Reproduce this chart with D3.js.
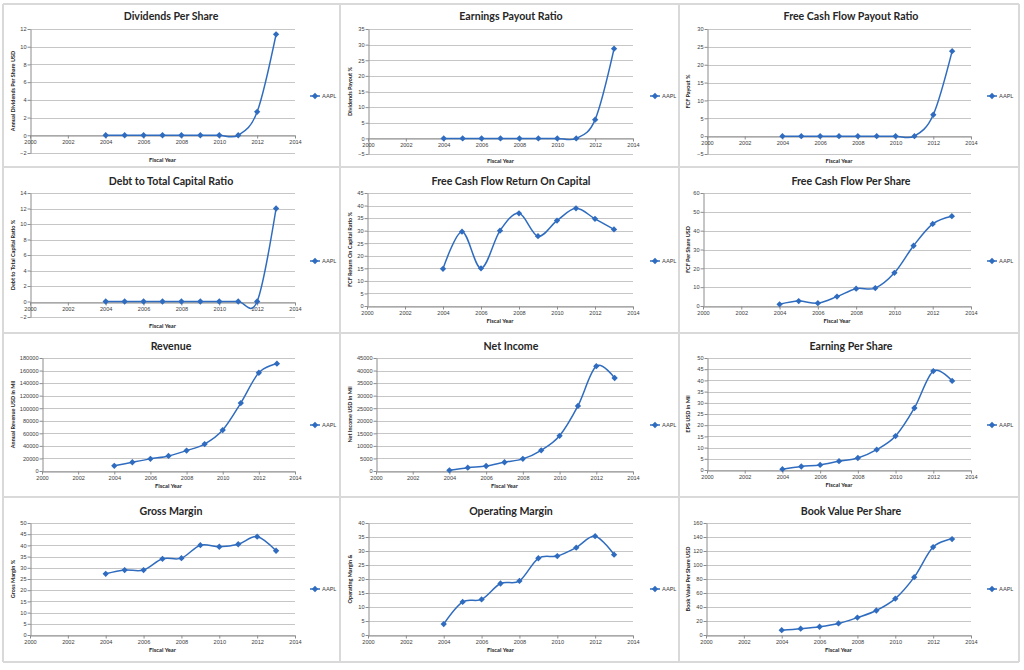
<!DOCTYPE html>
<html><head><meta charset="utf-8">
<script src="https://cdn.jsdelivr.net/npm/d3@7"></script>
<style>body{margin:0;background:#fff}svg{display:block;font-family:Lato,"Open Sans",sans-serif}</style>
</head><body><svg id="c" width="1024" height="670"></svg>
<script>
const years = [2004,2005,2006,2007,2008,2009,2010,2011,2012,2013];
const xTicks = [2000,2002,2004,2006,2008,2010,2012,2014];
const dividendsPerShare = [0,0,0,0,0,0,0,0,2.65,11.4];
const earningsPayout = [0,0,0,0,0,0,0,0,6,28.7];
const fcfPayout = [0,0,0,0,0,0,0,0,6,23.8];
const debtToCapital = [0,0,0,0,0,0,0,0,0,12];
const fcfReturnOnCapital = [14.8,29.6,15,30,36.9,27.8,34,38.9,34.7,30.5];
const fcfPerShare = [0.9,2.6,1.5,5,9.2,9.5,17.6,32,43.6,47.7];
const revenue = [8279,13931,19315,24006,32479,42905,65225,108249,156508,170910];
const netIncome = [276,1328,1989,3496,4834,8235,14013,25922,41733,37037];
const eps = [0.36,1.56,2.27,3.93,5.36,9.08,15.15,27.68,44.15,39.75];
const grossMargin = [27.3,29,29,34,34.3,40.1,39.4,40.5,43.9,37.6];
const operatingMargin = [3.9,11.8,12.7,18.4,19.3,27.4,28.2,31.2,35.3,28.7];
const bookValuePerShare = [6.9,9,11.8,16.5,24.9,35,51.9,82.6,125.6,137];

const titles = ["Dividends Per Share","Earnings Payout Ratio","Free Cash Flow Payout Ratio",
 "Debt to Total Capital Ratio","Free Cash Flow Return On Capital","Free Cash Flow Per Share",
 "Revenue","Net Income","Earning Per Share","Gross Margin","Operating Margin","Book Value Per Share"];
const yLabels = ["Annual Dividends Per Share USD","Dividends Payout %","FCF Payout %",
 "Debt to Total Capital Ratio %","FCF Return On Capital Ratio %","FCF Per Share USD",
 "Annual Revenue USD in Mil","Net Income USD in Mil","EPS USD in Mil",
 "Gross Margin %","Operating Margin &","Book Value Per Share USD"];
const seriesList = [dividendsPerShare,earningsPayout,fcfPayout,debtToCapital,fcfReturnOnCapital,fcfPerShare,
 revenue,netIncome,eps,grossMargin,operatingMargin,bookValuePerShare];
const yMin = [-2,-5,-5,-2,0,0,0,0,0,0,0,0];
const yMax = [12,35,30,14,45,60,180000,45000,50,50,40,160];
const yStep = [2,5,5,2,5,10,20000,5000,5,5,5,20];
const seriesName = "AAPL";

// layout
const colX = [0,340,680];
const rowY = [0,165,330,495];
const plotLeft = [30,28,27, 30,27,23, 42,36,27, 30,28,26];
const plotRight = [295,293,291];
const plotBottom = [[153,154,154],[317,306,306],[471,471,470],[635,635,635]];
const yLabelX = [15,12,10];

const svg = d3.select("#c");
const blue = "#2f6cbf";
const hLines = [4,167,333,497,662], vLines = [3,340,679,1019];
hLines.forEach(y=>svg.append("line").attr("x1",3).attr("x2",1019).attr("y1",y).attr("y2",y).attr("stroke","#d9d9d9").attr("stroke-width",2));
vLines.forEach(x=>svg.append("line").attr("y1",4).attr("y2",662).attr("x1",x).attr("x2",x).attr("stroke","#d9d9d9").attr("stroke-width",2));

const topByRow = [29,193,358,523];
const marker = d3.symbol(d3.symbolSquare,20);
for (let i=0;i<12;i++){
  const r = Math.floor(i/3), c = i%3;
  const ox = colX[c], oy = rowY[r];
  const L = ox + plotLeft[i], R = ox + plotRight[c];
  const T = topByRow[r], B = plotBottom[r][c];
  const x = d3.scaleLinear().domain([2000,2014]).range([L,R]);
  const y = d3.scaleLinear().domain([yMin[i],yMax[i]]).range([B,T]);
  const g = svg.append("g");
  const yt = d3.range(yMin[i], yMax[i]+yStep[i]/2, yStep[i]);
  g.selectAll(".gr").data(yt).join("line")
    .attr("x1",L).attr("x2",R).attr("y1",d=>Math.round(y(d))+0.5).attr("y2",d=>Math.round(y(d))+0.5)
    .attr("stroke","#c6c6c6").attr("stroke-width",1);
  const ya = g.append("g").attr("transform",`translate(${L+0.5},0)`)
    .call(d3.axisLeft(y).tickValues(yt).tickSize(3).tickSizeOuter(0).tickFormat(d3.format("d")));
  ya.select(".domain").attr("stroke","#8c8c8c");
  ya.selectAll(".tick line").attr("stroke","#8c8c8c");
  ya.selectAll("text").attr("font-size",5.6).attr("fill","#404040").attr("x",-4);
  const y0 = Math.round(y(0))+0.5;
  const xa = g.append("g").attr("transform",`translate(0,${y0})`)
    .call(d3.axisBottom(x).tickValues(xTicks).tickSize(3).tickSizeOuter(0).tickFormat(d3.format("d")));
  xa.select(".domain").attr("stroke","#8c8c8c");
  xa.selectAll(".tick line").attr("stroke","#8c8c8c");
  xa.selectAll("text").attr("font-size",5.6).attr("fill","#404040").attr("y",5);
  g.append("text").attr("x",ox+171).attr("y",oy+20).attr("text-anchor","middle")
    .attr("font-size",10.6).attr("font-weight","bold").attr("fill","#262626").text(titles[i]);
  g.append("text").attr("x",(L+R)/2).attr("y",B+(yMin[i]<0?5:0)+ (r===0?4:(r===1&&c===0?6:17)))
    .attr("text-anchor","middle").attr("font-size",5.8).attr("font-weight","bold").attr("fill","#262626").text("Fiscal Year");
  g.append("text").attr("transform",`translate(${ox+yLabelX[c]},${(T+B)/2}) rotate(-90)`)
    .attr("text-anchor","middle").attr("font-size",5.5).attr("font-weight","bold").attr("fill","#262626").text(yLabels[i]);
  const data = years.map((yr,k)=>[yr, seriesList[i][k]]);
  const line = d3.line().x(d=>x(d[0])).y(d=>y(d[1])).curve(d3.curveCatmullRom.alpha(0));
  g.append("path").attr("d",line(data)).attr("fill","none").attr("stroke",blue).attr("stroke-width",1.5);
  g.selectAll(".m").data(data).join("path")
    .attr("transform",d=>`translate(${x(d[0])},${y(d[1])}) rotate(45)`)
    .attr("d",marker).attr("fill",blue);
  const legY = [96,261,425,589][r];
  const lx = ox + (c===2?307:310);
  g.append("line").attr("x1",lx).attr("x2",lx+10).attr("y1",legY).attr("y2",legY).attr("stroke",blue).attr("stroke-width",1.5);
  g.append("path").attr("transform",`translate(${lx+5},${legY}) rotate(45)`).attr("d",marker).attr("fill",blue);
  g.append("text").attr("x",lx+12).attr("y",legY+2).attr("font-size",5.8).attr("fill","#404040").text(seriesName);
}
</script></body></html>
